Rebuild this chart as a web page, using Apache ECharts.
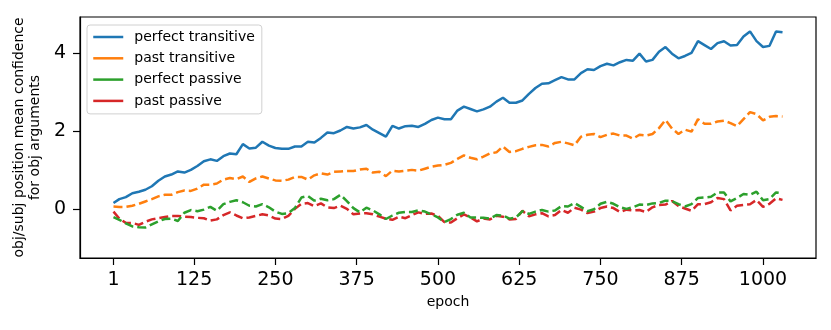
<!DOCTYPE html>
<html>
<head>
<meta charset="utf-8">
<script src="https://cdn.jsdelivr.net/npm/echarts@6/dist/echarts.min.js"></script>
<style>
  html, body { margin: 0; padding: 0; background: #fff; }
  #chart { width: 831px; height: 330px; }
</style>
</head>
<body>
<div id="chart"></div>
<script>
// epochs (every 10)
const epochs = [
  1, 10, 20, 30, 40, 50, 60, 70, 80, 90,
  100, 110, 120, 130, 140, 150, 160, 170, 180, 190,
  200, 210, 220, 230, 240, 250, 260, 270, 280, 290,
  300, 310, 320, 330, 340, 350, 360, 370, 380, 390,
  400, 410, 420, 430, 440, 450, 460, 470, 480, 490,
  500, 510, 520, 530, 540, 550, 560, 570, 580, 590,
  600, 610, 620, 630, 640, 650, 660, 670, 680, 690,
  700, 710, 720, 730, 740, 750, 760, 770, 780, 790,
  800, 810, 820, 830, 840, 850, 860, 870, 880,
  890, 900, 910, 920, 930, 940, 950, 960, 970, 980,
  990, 1000, 1010, 1020, 1030
]
const perfectTransitive = [
  0.15, 0.25, 0.30, 0.40, 0.44, 0.49, 0.58, 0.72, 0.83, 0.88,
  0.96, 0.93, 1.00, 1.10, 1.22, 1.27, 1.23, 1.35, 1.42, 1.40,
  1.66, 1.55, 1.57, 1.72, 1.62, 1.56, 1.54, 1.54, 1.60, 1.60,
  1.72, 1.70, 1.82, 1.96, 1.94, 2.01, 2.10, 2.06, 2.09, 2.15,
  2.03, 1.94, 1.85, 2.13, 2.06, 2.12, 2.13, 2.10, 2.18, 2.28,
  2.34, 2.30, 2.30, 2.52, 2.62, 2.56, 2.50, 2.55, 2.62, 2.75,
  2.85, 2.72, 2.72, 2.78, 2.95, 3.10, 3.21, 3.22, 3.30, 3.38,
  3.32, 3.32, 3.48, 3.58, 3.56, 3.66, 3.72, 3.68, 3.76, 3.82,
  3.80, 3.98, 3.78, 3.82, 4.03, 4.15, 3.98, 3.86, 3.92,
  4.00, 4.30, 4.20, 4.10, 4.25, 4.30, 4.19, 4.20, 4.42, 4.55,
  4.30, 4.15, 4.18, 4.55, 4.53
]
const pastTransitive = [
  0.06, 0.05, 0.05, 0.08, 0.13, 0.19, 0.25, 0.32, 0.36, 0.36,
  0.43, 0.47, 0.46, 0.52, 0.62, 0.62, 0.65, 0.75, 0.79, 0.76,
  0.83, 0.69, 0.78, 0.83, 0.78, 0.73, 0.72, 0.75, 0.82, 0.82,
  0.75, 0.86, 0.91, 0.88, 0.95, 0.96, 0.97, 0.97, 1.01, 1.03,
  0.93, 0.95, 0.84, 0.98, 0.96, 0.98, 1.00, 0.98, 1.03, 1.08,
  1.11, 1.13, 1.18, 1.28, 1.37, 1.31, 1.27, 1.34, 1.42, 1.45,
  1.60, 1.46, 1.48, 1.54, 1.59, 1.63, 1.64, 1.60, 1.69, 1.72,
  1.68, 1.63, 1.85, 1.90, 1.92, 1.84, 1.90, 1.93, 1.88, 1.88,
  1.80, 1.90, 1.88, 1.92, 2.07, 2.28, 2.06, 1.92, 2.03,
  1.98, 2.30, 2.18, 2.18, 2.24, 2.26, 2.20, 2.12, 2.30, 2.48,
  2.43, 2.27, 2.36, 2.38, 2.37
]
const perfectPassive = [
  -0.21, -0.28, -0.37, -0.45, -0.47, -0.48, -0.40, -0.32, -0.26, -0.25,
  -0.31, -0.10, -0.03, -0.06, -0.02, 0.05, -0.05, 0.12, 0.18, 0.22,
  0.17, 0.08, 0.06, 0.12, 0.04, -0.07, -0.13, -0.11, 0.02, 0.29,
  0.33, 0.21, 0.26, 0.22, 0.25, 0.36, 0.20, 0.02, -0.09, 0.03,
  -0.04, -0.14, -0.26, -0.17, -0.10, -0.08, -0.08, -0.04, -0.07, -0.14,
  -0.22, -0.34, -0.26, -0.15, -0.10, -0.22, -0.22, -0.23, -0.25, -0.16,
  -0.17, -0.25, -0.22, -0.06, -0.13, -0.07, -0.03, -0.07, -0.04, 0.07,
  0.06, 0.15, 0.05, -0.06, -0.01, 0.13, 0.18, 0.13, 0.04, 0.00,
  0.04, 0.11, 0.10, 0.14, 0.15, 0.21, 0.20, 0.12, 0.06,
  0.12, 0.28, 0.29, 0.31, 0.42, 0.42, 0.19, 0.28, 0.38, 0.36,
  0.44, 0.22, 0.25, 0.42, 0.40
]
const pastPassive = [
  -0.07, -0.25, -0.36, -0.36, -0.41, -0.33, -0.27, -0.24, -0.21, -0.18,
  -0.18, -0.20, -0.21, -0.23, -0.24, -0.30, -0.27, -0.16, -0.09, -0.17,
  -0.24, -0.22, -0.18, -0.14, -0.17, -0.25, -0.26, -0.18, 0.00, 0.13,
  0.15, 0.07, 0.14, 0.04, 0.02, 0.08, 0.00, -0.14, -0.12, -0.11,
  -0.14, -0.20, -0.25, -0.28, -0.20, -0.24, -0.16, -0.09, -0.13, -0.12,
  -0.18, -0.34, -0.35, -0.24, -0.14, -0.22, -0.32, -0.25, -0.27, -0.18,
  -0.20, -0.27, -0.26, -0.05, -0.19, -0.14, -0.11, -0.19, -0.16, -0.03,
  -0.10, 0.03, -0.02, -0.11, -0.07, 0.02, 0.06, 0.02, -0.08, -0.02,
  -0.04, -0.03, -0.08, 0.04, 0.10, 0.11, 0.20, 0.07, 0.01,
  -0.05, 0.12, 0.12, 0.17, 0.28, 0.25, -0.04, 0.08, 0.10, 0.12,
  0.23, 0.05, 0.13, 0.27, 0.23
]
const xTicks = [1, 125, 250, 375, 500, 625, 750, 875, 1000]
const yTicks = [0, 2, 4]
const seriesNames = ['perfect transitive', 'past transitive', 'perfect passive', 'past passive']
const seriesValues = [perfectTransitive, pastTransitive, perfectPassive, pastPassive]
const colors = ['#1f77b4', '#ff7f0e', '#2ca02c', '#d62728']

const font = 'DejaVu Sans'
const chart = echarts.init(document.getElementById('chart'))

const option = {
  animation: false,
  color: colors,
  textStyle: { fontFamily: font, color: '#000' },
  grid: {
    left: 80,
    right: 15,
    top: 17,
    bottom: 72,
    show: true,
    borderColor: '#000',
    borderWidth: 1.2
  },
  legend: {
    orient: 'vertical',
    left: 87,
    top: 25,
    padding: [5, 7, 6, 5],
    itemWidth: 30,
    itemHeight: 14,
    itemGap: 7.3,
    borderColor: '#d0d0d0',
    borderWidth: 1,
    borderRadius: 3,
    backgroundColor: 'rgba(255,255,255,0.8)',
    itemStyle: { opacity: 0 },
    lineStyle: { type: 'solid', width: 2.5 },
    textStyle: { fontFamily: font, fontSize: 14, color: '#000', padding: [0, 0, 0, 6] },
    data: seriesNames
  },
  xAxis: {
    type: 'value',
    min: -50.5,
    max: 1081.5,
    name: 'epoch',
    nameLocation: 'middle',
    nameGap: 36,
    nameTextStyle: { fontFamily: font, fontSize: 14, color: '#000' },
    axisLine: { show: true, onZero: false, lineStyle: { color: '#000', width: 1.2 } },
    axisTick: { show: true, length: 7, customValues: xTicks, lineStyle: { color: '#000', width: 1.2 } },
    axisLabel: {
      customValues: xTicks,
      margin: 13,
      fontSize: 19,
      fontFamily: font,
      color: '#000',
      formatter: v => String(v)
    },
    splitLine: { show: false }
  },
  yAxis: {
    type: 'value',
    min: -1.26,
    max: 4.92,
    name: 'obj/subj position mean confidence\nfor obj arguments',
    nameLocation: 'middle',
    nameGap: 34,
    nameTextStyle: { fontFamily: font, fontSize: 14, color: '#000', lineHeight: 16, align: 'center' },
    axisLine: { show: true, onZero: false, lineStyle: { color: '#000', width: 1.2 } },
    axisTick: { show: true, length: 7, customValues: yTicks, lineStyle: { color: '#000', width: 1.2 } },
    axisLabel: {
      customValues: yTicks,
      margin: 14,
      fontSize: 19,
      fontFamily: font,
      color: '#000',
      formatter: v => String(v)
    },
    splitLine: { show: false }
  },
  series: seriesNames.map((name, k) => ({
    name: name,
    type: 'line',
    symbol: 'none',
    data: epochs.map((e, i) => [e, seriesValues[k][i]]),
    lineStyle: {
      width: 2.5,
      color: colors[k],
      type: k === 0 ? 'solid' : [9, 4]
    },
    z: 4 - k
  }))
}

chart.setOption(option)
</script>
</body>
</html>
